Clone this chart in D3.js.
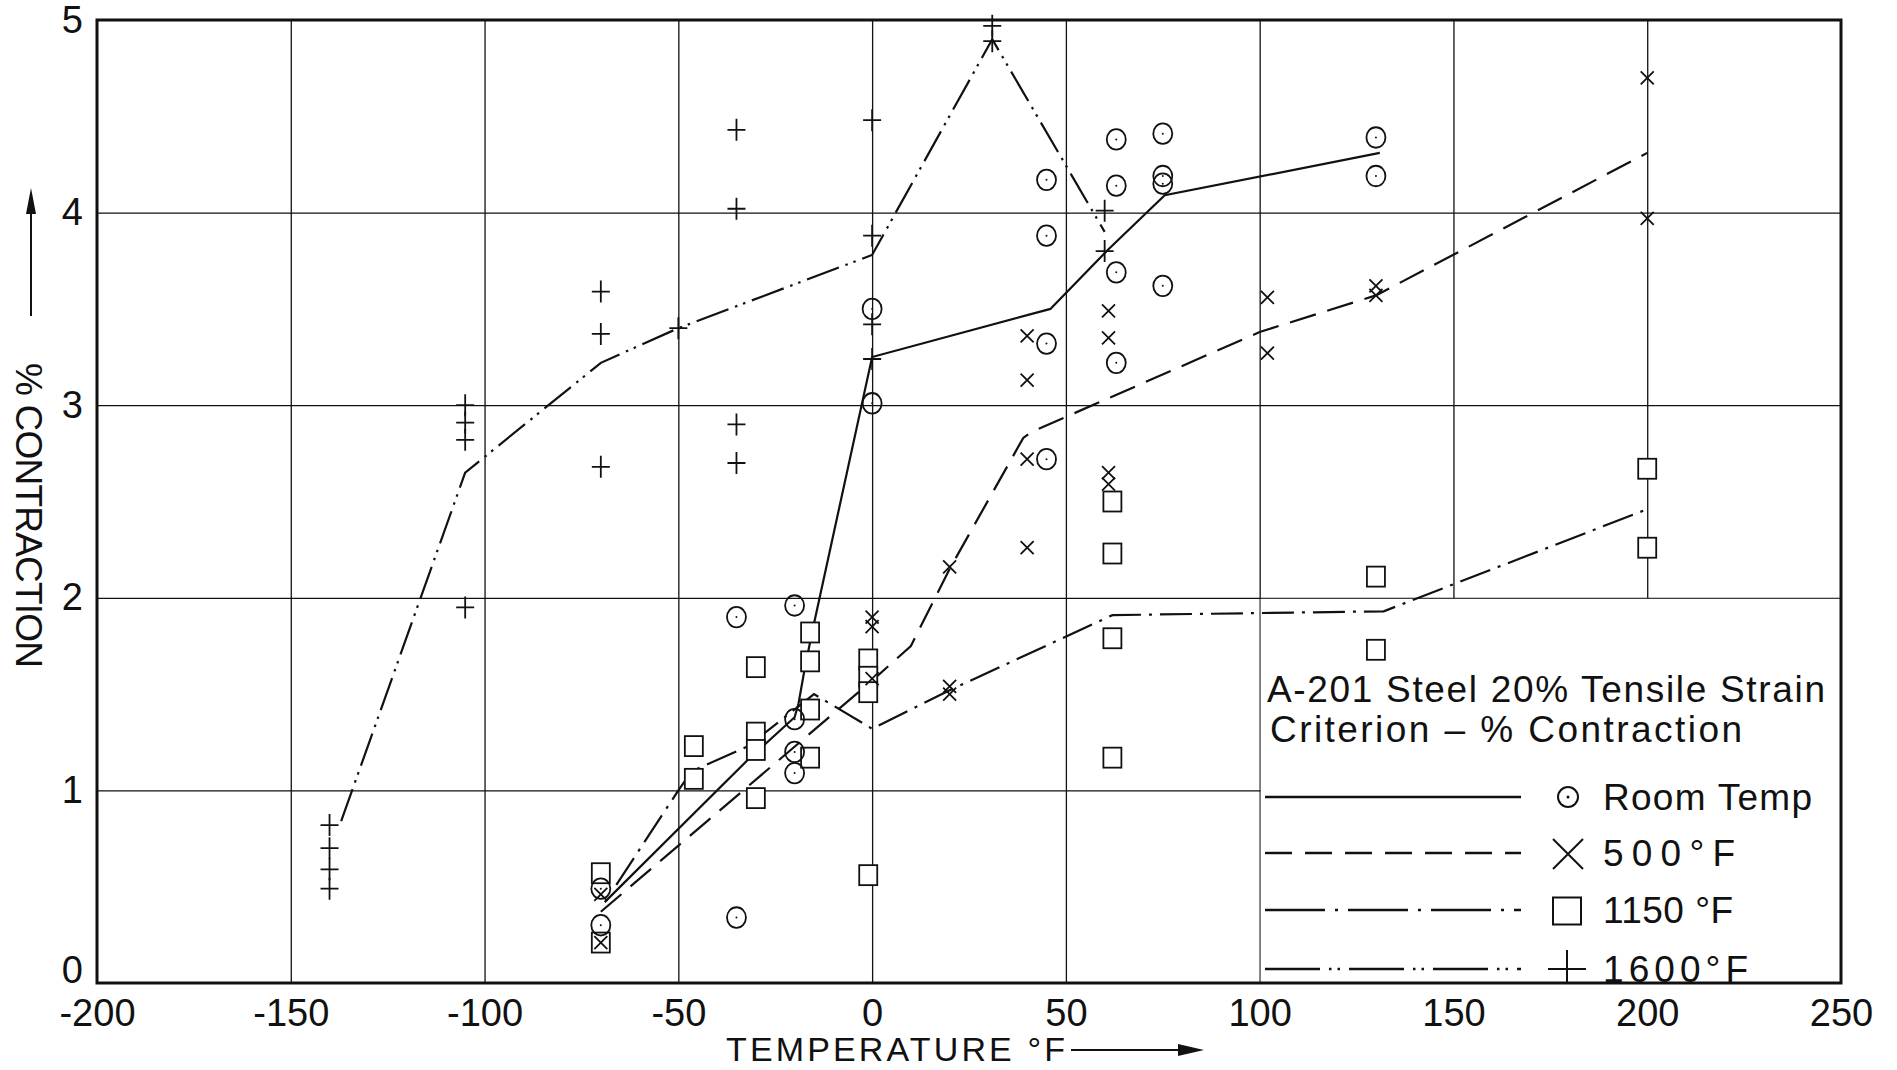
<!DOCTYPE html>
<html><head><meta charset="utf-8">
<script src="https://cdn.jsdelivr.net/npm/d3@7"></script>
<style>
html,body{margin:0;padding:0;background:#fff;}
svg{display:block;}
text{font-family:"Liberation Sans",Arial,sans-serif;fill:#111;}
</style></head>
<body>
<svg id="chart" width="1897" height="1070"></svg>
<script>
// ---------- data ----------
const xTicks = [-200,-150,-100,-50,0,50,100,150,200,250];
const xTickLabels = ["-200","-150","-100","-50","0","50","100","150","200","250"];
const yTicks = [0,1,2,3,4,5];
const yTickLabels = ["0","1","2","3","4","5"];

// measured points [temperature °F, % contraction]
const roomTempPts = [[-70,0.49],[-70,0.30],[-35,1.90],[-35,0.34],[-20,1.96],[-20,1.37],[-20,1.20],[-20,1.09],
  [0,3.50],[0,3.01],[45,4.17],[45,3.88],[45,3.32],[45,2.72],[63,4.38],[63,4.14],[63,3.69],[63,3.22],
  [75,4.41],[75,4.19],[75,4.15],[75,3.62],[130,4.39],[130,4.19]];
const f500Pts = [[-70,0.46],[-70,0.21],[0,1.90],[0,1.85],[0,1.58],[20,2.16],[20,1.54],[20,1.50],
  [40,3.36],[40,3.13],[40,2.72],[40,2.26],[61,3.49],[61,3.35],[61,2.65],[61,2.59],
  [102,3.56],[102,3.27],[130,3.62],[130,3.57],[200,4.70],[200,3.97]];
const f1150Pts = [[-70,0.57],[-70,0.21],[-46,1.23],[-46,1.06],[-30,1.64],[-30,1.30],[-30,1.21],[-30,0.96],
  [-16,1.82],[-16,1.67],[-16,1.42],[-16,1.17],[-1,1.68],[-1,1.59],[-1,1.51],[-1,0.56],
  [62,2.50],[62,2.23],[62,1.79],[62,1.17],[130,2.11],[130,1.73],[200,2.67],[200,2.26]];
const f1600Pts = [[-140,0.82],[-140,0.70],[-140,0.59],[-140,0.49],[-105,3.00],[-105,2.91],[-105,2.82],[-105,1.95],
  [-70,3.59],[-70,3.37],[-70,2.68],[-50,3.40],[-35,4.43],[-35,4.02],[-35,2.90],[-35,2.70],
  [0,4.48],[0,3.88],[0,3.42],[0,3.24],[31,4.97],[31,4.89],[60,4.01],[60,3.80]];

// faired curves
const roomTempLine = [[-69,0.42],[-32,1.16],[-20,1.38],[-19,1.45],[-17.5,1.62],[-15.5,1.82],[0,3.25],[46,3.50],[61,3.81],[75.5,4.09],[131,4.31]];
const f500Line = [[-70,0.37],[0,1.57],[10,1.75],[20,2.15],[39,2.83],[41,2.86],[100,3.38],[130,3.57],[200,4.31]];
const f1150Line = [[-66,0.51],[-50,1.00],[-46.5,1.10],[-32,1.23],[-15,1.50],[0,1.32],[20,1.52],[62,1.91],[132,1.93],[200,2.46]];
const f1600Line = [[-137,0.84],[-105,2.65],[-70,3.22],[-50,3.40],[0,3.78],[31,4.90],[60,3.90]];

const legendTitle = ["A-201 Steel 20% Tensile Strain", "Criterion \u2013 % Contraction"];
const seriesNames = ["Room Temp", "500\u00B0F", "1150 \u00B0F", "1600\u00B0F"];

// ---------- layout ----------
const svg = d3.select("#chart");
const L = 97, R = 1841, T = 20, B = 983;
const x = d3.scaleLinear().domain([-200,250]).range([L,R]);
const y = d3.scaleLinear().domain([0,5]).range([B,T]);
const ink = "#111";

// grid
const grid = svg.append("g");
grid.append("g").attr("transform",`translate(0,${B})`)
  .call(d3.axisBottom(x).tickValues(xTicks.slice(1,-1)).tickSize(-(B-T)).tickFormat(""))
  .call(g=>g.select(".domain").remove())
  .call(g=>g.selectAll("line").attr("stroke",ink).attr("stroke-width",1.3));
grid.append("g").attr("transform",`translate(${L},0)`)
  .call(d3.axisLeft(y).tickValues(yTicks.slice(1,-1)).tickSize(-(R-L)).tickFormat(""))
  .call(g=>g.select(".domain").remove())
  .call(g=>g.selectAll("line").attr("stroke",ink).attr("stroke-width",1.3));

// legend box masks grid (below y=2, right of x=100)
svg.append("rect").attr("x",x(100)+1).attr("y",y(2)+1).attr("width",R-x(100)-2).attr("height",B-y(2)-2).attr("fill","#fff");

// frame
svg.append("rect").attr("x",L).attr("y",T).attr("width",R-L).attr("height",B-T)
  .attr("fill","none").attr("stroke",ink).attr("stroke-width",3);

// tick labels
svg.append("g").attr("transform",`translate(0,${B})`)
  .call(d3.axisBottom(x).tickValues(xTicks).tickSize(0).tickPadding(16).tickFormat((d,i)=>xTickLabels[i]))
  .call(g=>g.select(".domain").remove())
  .call(g=>g.selectAll("text").attr("font-size",38).attr("fill",ink).attr("font-family","Liberation Sans, Arial, sans-serif"));
svg.append("g").attr("transform",`translate(${L},0)`)
  .call(d3.axisLeft(y).tickValues(yTicks).tickSize(0).tickPadding(14).tickFormat((d,i)=>yTickLabels[i]))
  .call(g=>g.select(".domain").remove())
  .call(g=>g.selectAll("text").attr("font-size",38).attr("fill",ink).attr("font-family","Liberation Sans, Arial, sans-serif")
    .attr("dy",d=>d===0?"-0.02em":"0.32em"));

// axis titles
svg.append("text").attr("x",726).attr("y",1061).attr("font-size",34)
  .attr("textLength",339).attr("lengthAdjust","spacing").text("TEMPERATURE \u00B0F");
svg.append("line").attr("x1",1071).attr("x2",1185).attr("y1",1050).attr("y2",1050).attr("stroke",ink).attr("stroke-width",2);
svg.append("path").attr("d","M1178,1044 L1204,1050 L1178,1056 Z").attr("fill",ink);

svg.append("text").attr("transform","translate(16,363) rotate(90)").attr("font-size",37)
  .attr("textLength",305).attr("lengthAdjust","spacing").text("% CONTRACTION");
svg.append("line").attr("x1",31).attr("x2",31).attr("y1",316).attr("y2",205).attr("stroke",ink).attr("stroke-width",2);
svg.append("path").attr("d","M26,214 L31,188 L36,214 Z").attr("fill",ink);

// curves
const line = d3.line().x(d=>x(d[0])).y(d=>y(d[1]));
const curves = [
  {data: roomTempLine, dash: null},
  {data: f500Line, dash: "27,12"},
  {data: f1150Line, dash: "32,8,3,8"},
  {data: f1600Line, dash: "34,7,2.5,6,2.5,7"}
];
svg.append("g").selectAll("path").data(curves).join("path")
  .attr("d",d=>line(d.data)).attr("fill","none").attr("stroke",ink).attr("stroke-width",2.2)
  .attr("stroke-dasharray",d=>d.dash);

// markers
const mk = svg.append("g").attr("fill","none").attr("stroke",ink).attr("stroke-width",1.8);
function circleMark(g, cx, cy, r){ 
  g.append("ellipse").attr("cx",cx).attr("cy",cy).attr("rx",r).attr("ry",r*1.08);
  g.append("circle").attr("cx",cx).attr("cy",cy).attr("r",1).attr("fill",ink).attr("stroke","none");
}
function xMark(g, cx, cy, s){
  g.append("path").attr("d",`M${cx-s},${cy-s}L${cx+s},${cy+s}M${cx-s},${cy+s}L${cx+s},${cy-s}`);
}
function sqMark(g, cx, cy, w, h){
  g.append("rect").attr("x",cx-w/2).attr("y",cy-h/2).attr("width",w).attr("height",h).attr("fill","#fff");
}
function plusMark(g, cx, cy, w, h){
  g.append("path").attr("d",`M${cx-w},${cy}L${cx+w},${cy}M${cx},${cy-h}L${cx},${cy+h}`);
}
f1150Pts.forEach(d=>sqMark(mk, x(d[0]), y(d[1]), 18, 20));
roomTempPts.forEach(d=>circleMark(mk, x(d[0]), y(d[1]), 9.5));
f500Pts.forEach(d=>xMark(mk, x(d[0]), y(d[1]), 6.5));
f1600Pts.forEach(d=>plusMark(mk, x(d[0]), y(d[1]), 9, 11));

// legend
svg.append("text").attr("x",1267).attr("y",702).attr("font-size",37)
  .attr("textLength",558).attr("lengthAdjust","spacing").text(legendTitle[0]);
svg.append("text").attr("x",1270).attr("y",742).attr("font-size",37)
  .attr("textLength",472).attr("lengthAdjust","spacing").text(legendTitle[1]);
const legY = [797, 853, 910, 969];
const legDash = [null, "27,13", "60,10,3,10", "55,9,2.5,6,2.5,9"];
const legLabelLen = [209, 132, 130, 145];
const lg = svg.append("g");
legY.forEach((ly,i)=>{
  lg.append("line").attr("x1",1265).attr("x2",1521).attr("y1",ly).attr("y2",ly)
    .attr("stroke",ink).attr("stroke-width",2.4).attr("stroke-dasharray",legDash[i]);
  lg.append("text").attr("x",1603).attr("y",ly+13).attr("font-size",37)
    .attr("textLength",legLabelLen[i]).attr("lengthAdjust","spacing").text(seriesNames[i]);
});
const lm = svg.append("g").attr("fill","none").attr("stroke",ink).attr("stroke-width",2);
lm.append("circle").attr("cx",1568).attr("cy",797).attr("r",10);
lm.append("circle").attr("cx",1568).attr("cy",797).attr("r",1.5).attr("fill",ink).attr("stroke","none");
xMark(lm, 1568, 854, 15);
sqMark(lm, 1567, 911, 28, 27);
lm.append("path").attr("d","M1548,969L1586,969M1567,950L1567,983");
</script>
</body></html>
